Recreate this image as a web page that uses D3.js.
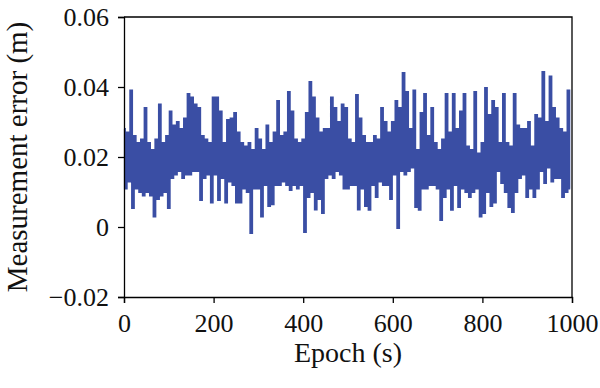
<!DOCTYPE html>
<html>
<head>
<meta charset="utf-8">
<script src="https://cdn.jsdelivr.net/npm/d3@7"></script>
<style>
  body { margin: 0; background: #fff; }
  svg { display: block; }
</style>
</head>
<body>
<svg id="chart"></svg>
<script>
var epochStep = 4;
var errorMm = [
  28, 11, 27, 13, 39, 5.4, 26, 11, 24, 10,
  25, 9, 34, 10, 24, 9, 22, 3, 25, 8,
  35, 9, 24, 10, 26, 5.4, 33, 14, 29, 15,
  30, 16, 28, 14, 31, 15, 38, 15, 37, 16,
  35, 16, 34, 7.7, 26, 14, 25, 15, 24, 7,
  37, 15, 37, 7.7, 33, 14, 24, 7, 30.6, 13,
  31, 12, 32.6, 7, 27, 7, 24, 11, 23, 10,
  24, -1.7, 22, 11, 28, 11, 25, 3, 22, 12,
  29, 6, 24, 6.5, 27, 12, 36, 12, 26, 13,
  27, 12, 38.6, 10.6, 33, 12, 25, 11, 24, 12,
  25, -1.4, 32.6, 8.6, 41.4, 10, 37, 5, 31, 8,
  27, 4, 28, 14, 28, 15, 37, 14, 34, 16,
  30, 15, 35, 11, 34, 11, 25, 12, 24, 12,
  37.7, 5, 31, 11, 26, 6, 24, 4.9, 24, 12,
  26, 8.6, 25, 13, 34, 12, 30, 12, 27, 8,
  30, 15, 36, -0.3, 34, 16, 44, 15, 38.6, 16,
  28, 17, 39, 5.7, 22, 4.9, 32.6, 11, 38, 11,
  26, 12, 34, 12, 24, 11, 22, 2, 25, 8.6,
  38, 11, 27, 4.9, 38, 12, 28, 5.7, 33, 11,
  38, 10, 23, 8.6, 22, 10, 38.6, 11, 21, 3,
  24, 4, 39.7, 10, 32, 6, 36, 7, 34, 16,
  24, 12.6, 38, 10, 24, 5.7, 23, 4.3, 38, 10,
  29, 14, 28, 15, 28, 8.6, 30, 11, 23, 8.6,
  32, 11, 31, 16, 44.3, 12.6, 30, 17, 43, 13,
  34, 14, 31, 14, 28, 8.6, 27, 10, 39, 11
];
var xTicks = [0, 200, 400, 600, 800, 1000];
var yTicks = [-0.02, 0, 0.02, 0.04, 0.06];

var W = 600, H = 388;
var plotL = 124, plotR = 572, plotT = 17, plotB = 297;

var svg = d3.select("#chart")
  .attr("width", W)
  .attr("height", H);

var x = d3.scaleLinear().domain([0, 1000]).range([plotL, plotR]);
var y = d3.scaleLinear().domain([-0.02, 0.06]).range([plotB, plotT]);

var data = errorMm.map(function(v, i) {
  return { t: i * epochStep, e: v / 1000 };
});

var line = d3.line()
  .x(function(d) { return x(d.t); })
  .y(function(d) { return y(d.e); })
  .curve(d3.curveStep);

svg.append("path")
  .datum(data)
  .attr("d", line)
  .attr("fill", "none")
  .attr("stroke", "#3a4ea4")
  .attr("stroke-width", 2)
  .attr("stroke-linejoin", "miter");

// frame top + right
svg.append("path")
  .attr("d", "M" + plotL + "," + plotT + "H" + plotR + "V" + plotB)
  .attr("fill", "none")
  .attr("stroke", "#000")
  .attr("stroke-width", 1.3);

var font = "'Liberation Serif', 'DejaVu Serif', serif";

var xAxis = svg.append("g")
  .attr("transform", "translate(0," + plotB + ")")
  .call(d3.axisBottom(x).tickValues(xTicks).tickSize(6).tickPadding(11)
    .tickFormat(d3.format("d")));

var yAxis = svg.append("g")
  .attr("transform", "translate(" + plotL + ",0)")
  .call(d3.axisLeft(y).tickValues(yTicks).tickSize(6).tickPadding(9)
    .tickFormat(function(d) { return d === 0 ? "0" : d3.format(".2f")(d).replace("-", "\u2212"); }));

[xAxis, yAxis].forEach(function(g) {
  g.select(".domain").attr("stroke", "#000").attr("stroke-width", 1.3);
  g.selectAll(".tick line").attr("stroke", "#000").attr("stroke-width", 1.3);
  g.selectAll(".tick text")
    .attr("fill", "#111")
    .style("font-family", font)
    .style("font-size", "26px");
});

svg.append("text")
  .attr("x", (plotL + plotR) / 2)
  .attr("y", 362)
  .attr("text-anchor", "middle")
  .style("font-family", font)
  .style("font-size", "28px")
  .attr("fill", "#111")
  .text("Epoch (s)");

svg.append("text")
  .attr("transform", "translate(27," + ((plotT + plotB) / 2) + ") rotate(-90)")
  .attr("text-anchor", "middle")
  .style("font-family", font)
  .style("font-size", "29px")
  .attr("fill", "#111")
  .text("Measurement error (m)");
</script>
</body>
</html>
